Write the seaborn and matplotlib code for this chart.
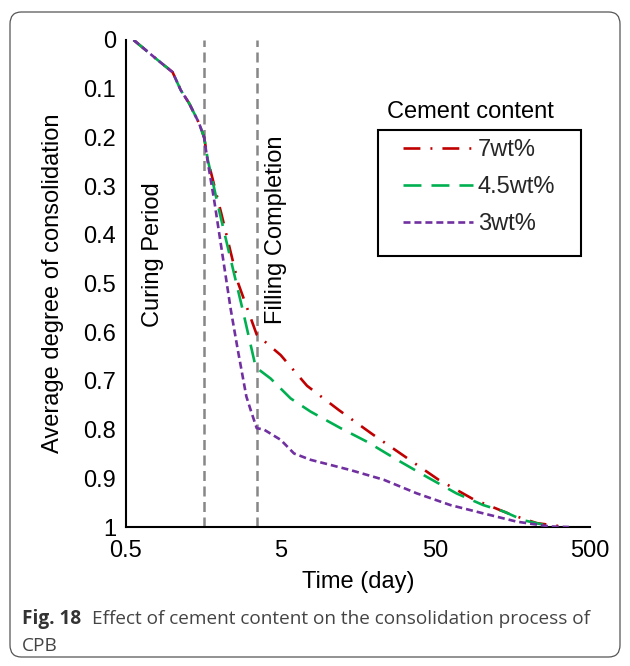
import numpy as np
import pandas as pd
import matplotlib
matplotlib.use("Agg")
import matplotlib.pyplot as plt
import seaborn as sns
from matplotlib.patches import FancyBboxPatch, Rectangle
from matplotlib.ticker import FixedLocator, FixedFormatter, NullFormatter

# ---------------- data ----------------
series_labels = ["7wt%", "4.5wt%", "3wt%"]

red_x = [0.56, 0.8, 1.0, 1.13, 1.28, 1.48, 1.6, 1.69, 2.08, 2.66, 3.5, 5.0, 7.4, 11.9,
         19.5, 32, 52.5, 88, 156, 226, 350]
red_y = [0.0, 0.041, 0.066, 0.103, 0.13, 0.17, 0.2, 0.246, 0.36, 0.50, 0.605, 0.647, 0.71,
         0.76, 0.809, 0.856, 0.903, 0.943, 0.975, 0.992, 1.0]

green_x = [0.56, 0.8, 1.0, 1.13, 1.28, 1.48, 1.6, 1.69, 2.0, 2.27, 2.84, 3.45, 4.3, 5.8,
           7.8, 12.2, 18.1, 28.3, 44, 68.5, 102, 138, 185, 290]
green_y = [0.0, 0.041, 0.066, 0.103, 0.13, 0.17, 0.2, 0.246, 0.35, 0.424, 0.554, 0.672,
           0.695, 0.736, 0.763, 0.797, 0.825, 0.862, 0.897, 0.931, 0.955, 0.968, 0.986, 1.0]

purple_x = [0.56, 0.8, 1.0, 1.13, 1.28, 1.48, 1.6, 1.68, 1.86, 2.38, 2.64, 3.0, 3.2, 3.5,
            3.9, 5.0, 6.1, 7.8, 14.1, 23.2, 38, 62.6, 102, 168, 276, 365]
purple_y = [0.0, 0.041, 0.066, 0.103, 0.13, 0.17, 0.2, 0.246, 0.33, 0.554, 0.636, 0.732,
            0.76, 0.797, 0.80, 0.821, 0.849, 0.862, 0.883, 0.903, 0.931, 0.955, 0.972,
            0.989, 0.999, 1.0]

event_days = [1.6, 3.5]
event_labels = ["Curing Period", "Filling Completion"]

x_major = [0.5, 5, 50, 500]
x_major_labels = ["0.5", "5", "50", "500"]
y_ticks = [0, 0.1, 0.2, 0.3, 0.4, 0.5, 0.6, 0.7, 0.8, 0.9, 1.0]
y_tick_labels = ["0", "0.1", "0.2", "0.3", "0.4", "0.5", "0.6", "0.7", "0.8", "0.9", "1"]

# ---------------- style ----------------
sns.set_style("white")
plt.rcParams["font.family"] = ["Liberation Sans", "DejaVu Sans"]

FS = 17
colors = {"7wt%": "#C00000", "4.5wt%": "#00B050", "3wt%": "#7030A0"}
dashes = {"7wt%": (6.4, 3.8, 0.75, 3.8), "4.5wt%": (6.8, 3.8), "3wt%": (2.65, 1.5)}

df = pd.concat([
    pd.DataFrame({"time": red_x, "U": red_y, "cement": "7wt%"}),
    pd.DataFrame({"time": green_x, "U": green_y, "cement": "4.5wt%"}),
    pd.DataFrame({"time": purple_x, "U": purple_y, "cement": "3wt%"}),
], ignore_index=True)

fig = plt.figure(figsize=(6.3, 6.66), dpi=100)
fig.patch.set_facecolor("white")

def fx(px):
    return px / 630

def fy(py):
    return 1 - py / 666

# rounded frame around the whole figure
frame = FancyBboxPatch((fx(10), fy(657)), 610 / 630, 645 / 666,
                       boxstyle="round,pad=0,rounding_size=0.018",
                       transform=fig.transFigure, facecolor="none",
                       edgecolor="#555555", linewidth=0.9, zorder=0)
fig.patches.append(frame)

ax = fig.add_axes([fx(126), fy(527), (590 - 126) / 630, (527 - 40) / 666])

# event lines
for d in event_days:
    ax.axvline(d, color="#878787", linewidth=1.8, linestyle=(0, (4.0, 2.2)), zorder=1)

sns.lineplot(data=df, x="time", y="U", hue="cement", style="cement",
             hue_order=series_labels, style_order=series_labels,
             palette=colors, dashes=dashes, linewidth=1.9, sort=False,
             estimator=None, legend=False, ax=ax, zorder=3)

ax.set_xscale("log")
ax.set_xlim(0.5, 500)
ax.set_ylim(1, 0)

ax.xaxis.set_major_locator(FixedLocator(x_major))
ax.xaxis.set_major_formatter(FixedFormatter(x_major_labels))
minor = [0.5 * k * 10 ** n for n in range(3) for k in range(2, 10)]
ax.xaxis.set_minor_locator(FixedLocator(minor))
ax.xaxis.set_minor_formatter(NullFormatter())
ax.yaxis.set_major_locator(FixedLocator(y_ticks))
ax.yaxis.set_major_formatter(FixedFormatter(y_tick_labels))

for s in ["top", "right"]:
    ax.spines[s].set_visible(False)
for s in ["left", "bottom"]:
    ax.spines[s].set_color("black")
    ax.spines[s].set_linewidth(1.5)

ax.tick_params(axis="both", which="both", direction="in", color="black",
               width=1.3, labelsize=FS, labelcolor="black")
ax.tick_params(axis="x", which="both", length=4.5, pad=9.5)
ax.tick_params(axis="y", which="major", length=4.5, pad=7)

ax.set_xlabel("Time (day)", fontsize=FS, labelpad=6, color="black")
ax.set_ylabel("Average degree of consolidation", fontsize=FS, labelpad=14, color="black")

ax.text(0.75, 0.44, event_labels[0], rotation=90, fontsize=FS,
        ha="center", va="center", color="black")
ax.text(4.65, 0.39, event_labels[1], rotation=90, fontsize=FS,
        ha="center", va="center", color="black")

# legend (frame drawn separately; title sits above the box)
handles = ax.get_lines()[len(event_days):len(event_days) + 3]
em = FS * 100 / 72
leg = ax.legend(handles, series_labels, loc="upper left",
                bbox_to_anchor=(fx(403), fy(139)),
                bbox_transform=fig.transFigure, fontsize=FS,
                frameon=False, borderaxespad=0, borderpad=0,
                handlelength=70 / em, handletextpad=5 / em, labelspacing=0.64)
fig.patches.append(Rectangle((fx(378), fy(256)), (581 - 378) / 630, (256 - 130) / 666,
                             transform=fig.transFigure, facecolor="none",
                             edgecolor="black", linewidth=1.5, zorder=5))
fig.text(fx(470), fy(112), "Cement content", fontsize=FS,
         ha="center", va="center", color="black")

# caption
cap_font = ["Open Sans", "DejaVu Sans"]
CFS = 13.7
t1 = fig.text(fx(22), fy(619), "Fig. 18", fontsize=CFS, fontweight="bold",
              family=cap_font, color="#333333", va="center", ha="left")
fig.canvas.draw()
bb = t1.get_window_extent()
x_next = (bb.x1 + 11) / fig.bbox.width
fig.text(x_next, fy(619), "Effect of cement content on the consolidation process of",
         fontsize=CFS, family=cap_font, color="#444444", va="center", ha="left")
fig.text(fx(22), fy(646), "CPB", fontsize=CFS, family=cap_font,
         color="#444444", va="center", ha="left")

fig.savefig("out.png", dpi=100, facecolor="white")
